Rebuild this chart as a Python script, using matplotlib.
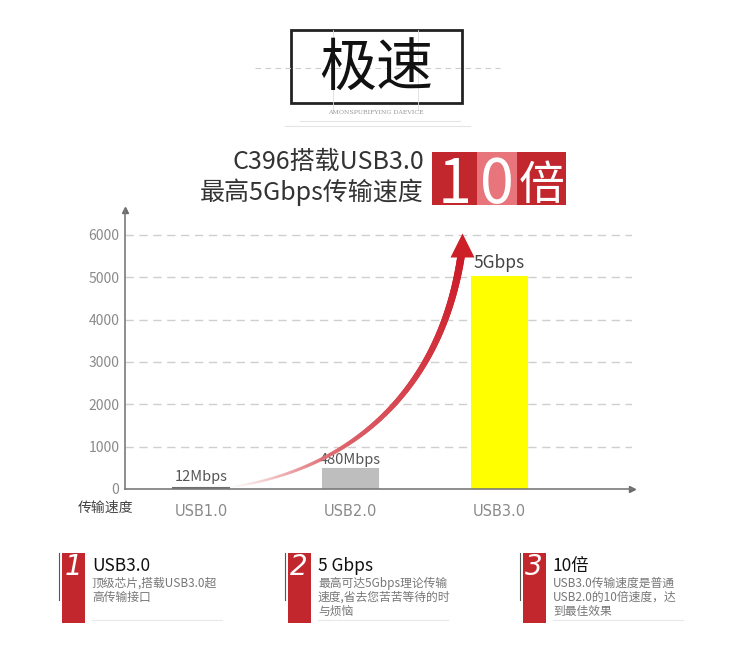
import numpy as np
import matplotlib.pyplot as plt
from matplotlib.collections import LineCollection
from matplotlib.patches import Rectangle

plt.rcParams['font.family'] = ['Noto Sans CJK SC', 'DejaVu Sans']

# dados
categorias = ['USB1.0', 'USB2.0', 'USB3.0']
velocidades = [12, 480, 5000]  # Mbps
rotulos = ['12Mbps', '480Mbps', '5Gbps']
yticks = [0, 1000, 2000, 3000, 4000, 5000, 6000]

titulo = '极速'
subtitulo = 'AMONSPURIFYING DAEVICE'
linha1 = 'C396搭载USB3.0'
linha2 = '最高5Gbps传输速度'
destaque = ['1', '0', '倍']
eixo_y = '传输速度'

painel_num = ['1', '2', '3']
painel_tit = ['USB3.0', '5 Gbps', '10倍']
painel_txt = [['顶级芯片,搭载USB3.0超', '高传输接口'],
              ['最高可达5Gbps理论传输', '速度,省去您苦苦等待的时', '与烦恼'],
              ['USB3.0传输速度是普通', 'USB2.0的10倍速度，达', '到最佳效果']]

W, H = 750, 668
vermelho = '#c1272d'
rosa = '#e8757b'


def px(x, y):
    # pixels -> fracao da figura
    return x / W, 1 - y / H


fig = plt.figure(figsize=(7.5, 6.68), dpi=100)
fig.patch.set_facecolor('white')

# ---------------- grafico principal ----------------
ax = fig.add_axes([125 / W, 179 / H, 507 / W, 279 / H])
x = np.arange(len(categorias))
cores = ['#6e6e6e', '#bebebe', '#ffff00']
ax.bar(x, velocidades, width=0.37, color=cores, edgecolor=cores, lw=1.5,
       zorder=2)
ax.set_xlim(-0.51, 2.89)
ax.set_ylim(0, 6590)

for v in yticks[1:]:
    ax.axhline(v, color='#cfcfcf', lw=1, ls=(0, (6, 4)), zorder=1)

ax.set_yticks(yticks)
ax.set_yticklabels([str(v) for v in yticks], color='#8a8a8a', fontsize=10)
ax.set_xticks(x)
ax.set_xticklabels(categorias, color='#8a8a8a', fontsize=10.5)
ax.tick_params(axis='both', length=0)
ax.tick_params(axis='y', pad=4)
ax.tick_params(axis='x', pad=11)
for lab in ax.get_xticklabels():
    lab.set_fontfamily(['DejaVu Sans'])
for s in ['top', 'right']:
    ax.spines[s].set_visible(False)
for s in ['left', 'bottom']:
    ax.spines[s].set_color('#7a7a7a')
    ax.spines[s].set_linewidth(1.2)
ax.plot(1, 0, '>', color='#6a6a6a', ms=5, transform=ax.transAxes, clip_on=False)
ax.plot(0, 1, '^', color='#6a6a6a', ms=5, transform=ax.transAxes, clip_on=False)

# rotulos das barras
ax.text(0, velocidades[0] + 110, rotulos[0], ha='center', va='bottom',
        fontsize=10.5, color='#555555')
ax.text(1, velocidades[1] + 50, rotulos[1], ha='center', va='bottom',
        fontsize=10.5, color='#555555')
ax.text(2, velocidades[2] + 120, rotulos[2], ha='center', va='bottom',
        fontsize=12.5, color='#444444')

# seta curva com gradiente
P = np.array([[0.19, 40], [1.0, 450], [1.62, 2300], [1.75, 5650]])
t = np.linspace(0, 1, 200)[:, None]
curva = ((1 - t) ** 3 * P[0] + 3 * (1 - t) ** 2 * t * P[1]
         + 3 * (1 - t) * t ** 2 * P[2] + t ** 3 * P[3])
segs = np.stack([curva[:-1], curva[1:]], axis=1)
tt = t[:-1, 0]
c0 = np.array([0.93, 0.65, 0.66])
c1 = np.array([0.80, 0.10, 0.15])
rgba = np.zeros((len(tt), 4))
rgba[:, :3] = c0 + (c1 - c0) * tt[:, None] ** 0.7
rgba[:, 3] = np.clip(tt * 2.2, 0, 1)
lc = LineCollection(segs, colors=rgba, linewidths=1.5 + 4 * tt, zorder=3,
                    capstyle='round')
ax.add_collection(lc)
ax.plot(1.75, 5760, '^', color='#cc1f28', ms=17, mec='none', zorder=4)

fig.text(*px(78, 508), eixo_y, ha='left', va='center', fontsize=10,
         color='#444444')

# ---------------- cabecalho ----------------
fig.add_artist(plt.Line2D([255 / W, 500 / W], [1 - 68 / H] * 2,
                          color='#cccccc', lw=0.8, ls=(0, (5, 4))))
for xv in [333, 418]:
    fig.add_artist(plt.Line2D([xv / W] * 2, [1 - 30 / H, 1 - 110 / H],
                              color='#dddddd', lw=0.6))
fig.add_artist(Rectangle(px(291, 103), 171 / W, 73 / H, fill=False,
                         ec='#222222', lw=2, transform=fig.transFigure))
fig.text(*px(376, 69), titulo, ha='center', va='center', fontsize=41,
         color='#111111')
fig.text(*px(376, 112), subtitulo, ha='center', va='center', fontsize=4.5,
         color='#999999', family=['DejaVu Serif'])
for yv, x0, x1 in [(121, 300, 460), (126, 285, 470)]:
    fig.add_artist(plt.Line2D([x0 / W, x1 / W], [1 - yv / H] * 2,
                              color='#e4e4e4', lw=0.8))

fig.text(*px(424, 162), linha1, ha='right', va='center', fontsize=18,
         color='#333333')
fig.text(*px(424, 192), linha2, ha='right', va='center', fontsize=18,
         color='#333333')

blocos = [(432, 477, vermelho), (477, 517, rosa), (517, 566, vermelho)]
tamanhos = [44, 44, 33]
bases = [203, 203, 199]
for (x0, x1, cor), ch, fs, yb in zip(blocos, destaque, tamanhos, bases):
    fig.add_artist(Rectangle(px(x0, 205), (x1 - x0) / W, 53 / H, fc=cor,
                             ec='none', transform=fig.transFigure))
    fig.text(*px((x0 + x1) / 2, yb), ch, ha='center', va='baseline',
             fontsize=fs, color='white')

# ---------------- paineis inferiores ----------------
paineis_x = [62, 288, 523]
for i, x0 in enumerate(paineis_x):
    fig.add_artist(plt.Line2D([(x0 - 3) / W] * 2, [1 - 553 / H, 1 - 600 / H],
                              color='#555555', lw=0.8))
    fig.add_artist(Rectangle(px(x0, 623), 23 / W, 70 / H, fc=vermelho,
                             ec='none', transform=fig.transFigure))
    fig.text(*px(x0 + 11, 567), painel_num[i], ha='center', va='center',
             fontsize=20, color='white', style='italic',
             family=['DejaVu Sans'])
    tx = x0 + 30
    fig.text(*px(tx, 566), painel_tit[i], ha='left', va='center',
             fontsize=12.5, color='#111111')
    for j, s in enumerate(painel_txt[i]):
        fig.text(*px(tx, 583 + 14 * j), s, ha='left', va='center',
                 fontsize=8.5, color='#777777')
    fig.add_artist(plt.Line2D([tx / W, (tx + 130) / W], [1 - 620 / H] * 2,
                              color='#e8e8e8', lw=0.8))

plt.savefig('out.png', dpi=100, facecolor='white')
